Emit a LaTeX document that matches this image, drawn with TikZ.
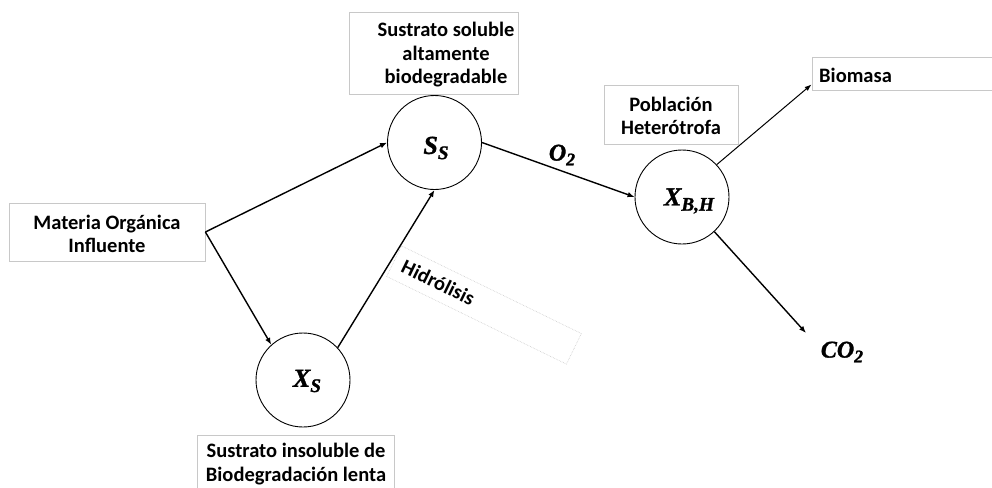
\documentclass[tikz,border=0pt]{standalone}
\usepackage{fontspec}
\setmainfont{Carlito}
\newfontfamily\symfont{Liberation Serif}[BoldItalicFeatures={FakeBold=1.3}]
\usetikzlibrary{arrows.meta}

\definecolor{boxgray}{RGB}{200,200,200}

% bold italic variable with a lowered subscript
\newcommand{\varsym}[3]{{\fontsize{#3}{#3}\selectfont\symfont\bfseries\itshape
  #1\raisebox{-0.2em}{\fontsize{0.74\dimexpr#3pt\relax}{1em}\selectfont #2}}}

\tikzset{
  caption/.style={font=\fontsize{20.5}{23.5}\selectfont\bfseries, align=center, inner sep=0},
  framebox/.style={draw=boxgray, line width=0.8pt, inner sep=0},
  pool/.style={circle, draw, line width=0.9pt, minimum size=94pt, inner sep=0},
  symbol/.style={inner sep=0},
  flow/.style={line width=1.4pt, -{Latex[length=7pt,width=5.5pt]}},
  thinflow/.style={line width=1pt, -{Latex[length=7pt,width=5pt]}}
}

\begin{document}
\begin{tikzpicture}[x=1pt,y=-1pt]
\useasboundingbox (0,0) rectangle (992,487);

% text boxes
\node[framebox, minimum width=196pt, minimum height=58pt] (mobox) at (107,232) {};
\node[caption] (motext) at (107,234) {Materia Orgánica\\Influente};

\node[framebox, minimum width=169pt, minimum height=82pt] (ssbox) at (433.5,53) {};
\node[caption] (sstext) at (446,55) {Sustrato soluble\\altamente\\biodegradable};

\node[framebox, minimum width=197pt, minimum height=58pt] (xsbox) at (295.5,464) {};
\node[caption] (xstext) at (296,464) {Sustrato insoluble de\\Biodegradación lenta};

\node[framebox, minimum width=134pt, minimum height=59pt] (pobox) at (671,114.5) {};
\node[caption] (potext) at (671,116) {Población\\Heterótrofa};

\node[framebox, minimum width=190pt, minimum height=33pt] (biobox) at (907,73.5) {};
\node[caption, anchor=west] (biotext) at (819,75) {Biomasa};

% hydrolysis label box, tilted along the process
\node[draw=boxgray, densely dotted, line width=0.6pt, rotate=-26,
      minimum width=200pt, minimum height=34pt, text width=180pt,
      inner sep=0, font=\fontsize{20.5}{23.5}\selectfont\bfseries, align=left]
      (hidro) at (484,305) {Hidrólisis};

% state variables
\node[pool] (ss) at (434.5,142.5) {};
\node[symbol] (sslab) at (436,148) {\varsym{S}{S}{26}};

\node[pool] (xs) at (303,380) {};
\node[symbol] (xslab) at (307,381) {\varsym{X}{S}{26}};

\node[pool] (xbh) at (682,197) {};
\node[symbol] (xbhlab) at (689,201) {\varsym{X}{B,H}{26}};

\node[symbol] (o2) at (562,155) {\varsym{O}{2}{24}};
\node[symbol] (co2) at (842,352) {\varsym{CO}{2}{24}};
\coordinate (co2in) at (806,333);

% flows
\draw[flow] (mobox.east) -- (ss.west);
\draw[flow] (mobox.east) -- (xs.132);
\draw[flow] (xs.43) -- (ss.south);
\draw[flow] (ss.east) -- (xbh.west);
\draw[thinflow] (xbh.43) -- ([yshift=6pt]biobox.south west);
\draw[flow] (xbh.-47) -- (co2in);
\end{tikzpicture}
\end{document}
